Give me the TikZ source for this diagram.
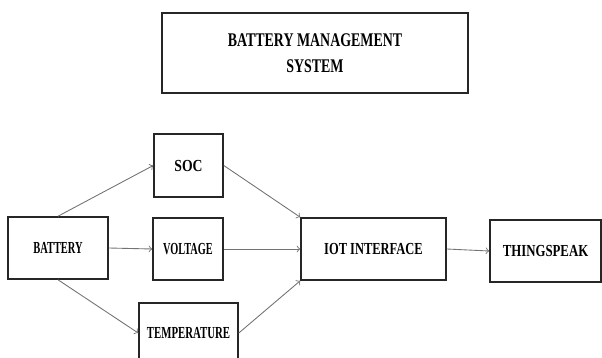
\documentclass[tikz,border=0pt]{standalone}
\usepackage{fontspec}
\usepackage{graphicx}
\setmainfont{Liberation Serif}
\usetikzlibrary{calc}
\newcommand{\cond}[2]{\scalebox{#1}[1]{#2}}

\begin{document}
\begin{tikzpicture}[x=0.02cm, y=-0.02cm, thick]
  \tikzset{
    blk/.style={draw=black!85, line width=0.9pt, fill=white, inner sep=0pt,
      font=\fontsize{9.6}{10}\selectfont\bfseries, align=center},
    arr/.style={->, black!55, line width=0.5pt}
  }
  \useasboundingbox (0,0) rectangle (602,358);
  \coordinate (T) at (315,53);
  \coordinate (B) at (58,248);
  \coordinate (S) at (188.5,165.5);
  \coordinate (V) at (188,249);
  \coordinate (P) at (188.5,333);
  \coordinate (I) at (373.5,249);
  \coordinate (K) at (545.5,251);
  % 方框
  \node[blk, minimum width=6.12cm, minimum height=1.6cm,
    font=\fontsize{11}{13.6}\selectfont\bfseries] (title) at (T)
    {\cond{0.72}{BATTERY MANAGEMENT}\\[1pt]\cond{0.72}{SYSTEM}};
  \node[blk, minimum width=2cm, minimum height=1.24cm] (bat) at (B) {\cond{0.62}{BATTERY}};
  \node[blk, minimum width=1.38cm, minimum height=1.26cm] (soc) at (S) {\cond{0.81}{SOC}};
  \node[blk, minimum width=1.4cm, minimum height=1.24cm] (volt) at (V) {\cond{0.61}{VOLTAGE}};
  \node[blk, minimum width=1.98cm, minimum height=1.2cm] (temp) at (P) {\cond{0.64}{TEMPERATURE}};
  \node[blk, minimum width=2.9cm, minimum height=1.24cm] (iot) at (I) {\cond{0.74}{IOT INTERFACE}};
  \node[blk, minimum width=2.22cm, minimum height=1.24cm] (ts) at (K) {\cond{0.76}{THINGSPEAK}};
  % 箭头
  \draw[arr] (bat.north) -- (soc.west);
  \draw[arr] (bat.east) -- (volt.west);
  \draw[arr] (bat.south) -- (temp.west);
  \draw[arr] (soc.east) -- (iot.north west);
  \draw[arr] (volt.east) -- (iot.west);
  \draw[arr] (temp.east) -- (iot.south west);
  \draw[arr] (iot.east) -- (ts.west);
\end{tikzpicture}
\end{document}
